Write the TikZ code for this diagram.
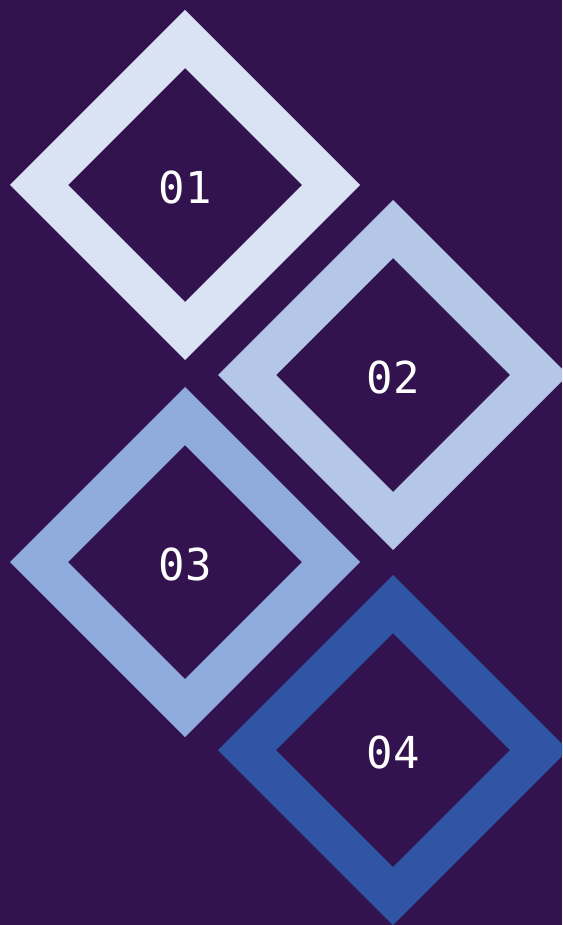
\documentclass[tikz,border=0pt]{standalone}
\usepackage{fontspec}
\newfontfamily\digitfont{DejaVu Sans Mono}
\definecolor{bgcol}{HTML}{33134F}
\definecolor{onecol}{HTML}{DAE3F3}
\definecolor{twocol}{HTML}{B4C7E7}
\definecolor{thrcol}{HTML}{8FAADC}
\definecolor{fourcol}{HTML}{2F55A4}
\tikzset{
  numlbl/.style={text=white,font=\digitfont\fontsize{44}{44}\selectfont,inner sep=0pt}
}

\begin{document}
\begin{tikzpicture}[x=1pt,y=-1pt]
  \useasboundingbox (0,0) rectangle (562,925);
  \clip (0,0) rectangle (562,925);
  \fill[bgcol] (0,0) rectangle (562,925);
  % four diamond rings
  \foreach \cx/\cy/\col/\lbl in {185/185/onecol/01,393/375/twocol/02,185/562/thrcol/03,393/750/fourcol/04} {
    \fill[\col,even odd rule] (\cx-175,\cy) -- (\cx,\cy-175) -- (\cx+175,\cy) -- (\cx,\cy+175) -- cycle
      (\cx-117,\cy) -- (\cx,\cy-117) -- (\cx+117,\cy) -- (\cx,\cy+117) -- cycle;
    \node[numlbl] (n\lbl) at (\cx,\cy+2.5) {\lbl};
  }
\end{tikzpicture}
\end{document}
